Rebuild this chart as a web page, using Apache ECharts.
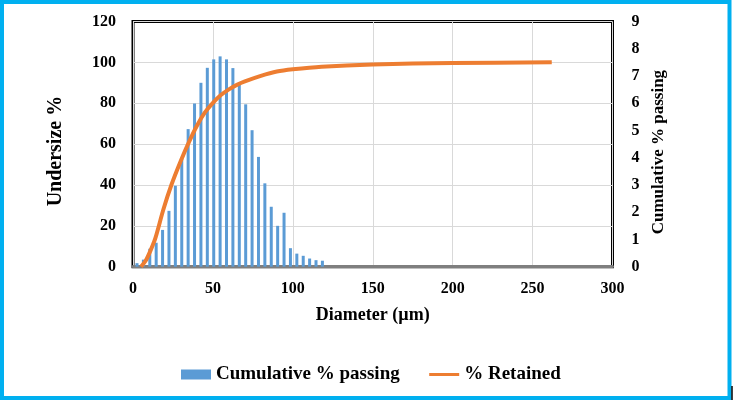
<!DOCTYPE html>
<html>
<head>
<meta charset="utf-8">
<script src="https://cdn.jsdelivr.net/npm/echarts@6/dist/echarts.min.js"></script>
<style>
  html, body { margin: 0; padding: 0; background: #fff; }
  #chart { width: 734px; height: 402px; }
</style>
</head>
<body>
<div id="chart"></div>
<script>
// bar x positions (µm) and heights on the right axis
const diameters = [2.5, 6.5, 10.5, 14.5, 18.5, 22.5, 26.5, 30.5, 34.5, 38.5, 42.5, 46.5, 50.5, 54.5, 58.5,
    62.5, 66.5, 70.5, 74.5, 78.5, 82.5, 86.5, 90.5, 94.5, 98.5, 102.5, 106.5, 110.5, 114.5, 118.5];
const passing = [0.13, 0.26, 0.66, 0.88, 1.35, 2.05, 2.97, 3.95, 5.05, 5.99, 6.75, 7.3, 7.61, 7.72, 7.61,
    7.29, 6.75, 5.96, 5.01, 4.03, 3.06, 2.2, 1.5, 1.98, 0.68, 0.48, 0.4, 0.3, 0.24, 0.22];

// cumulative curve (left axis)
const retainedX = [5, 8, 11, 14, 19, 24, 30, 35, 40, 45, 50, 55, 60, 65, 70, 80, 90, 100, 118, 150, 200, 262];
const retainedY = [0, 3, 8, 14, 28, 40, 52, 61, 69, 75.5, 80.2, 84, 86.8, 89, 90.7, 93.4, 95.5, 96.6, 97.9, 99, 99.7, 100];

const barData = diameters.map((d, i) => [d, passing[i]]);
const lineData = retainedX.map((d, i) => [d, retainedY[i]]);

const font = 'Liberation Serif, Times New Roman, serif';
const labelStyle = { color: '#000', fontFamily: font, fontWeight: 'bold', fontSize: 16 };

const chart = echarts.init(document.getElementById('chart'));

const option = {
    animation: false,
    backgroundColor: '#fff',
    grid: {
        left: 133,
        right: 121.5,
        top: 21.5,
        bottom: 135.3,
        show: true,
        borderColor: '#000',
        borderWidth: 3
    },
    legend: {
        left: 181,
        top: 365,
        padding: 0,
        itemWidth: 30,
        itemHeight: 10,
        itemGap: 28,
        textStyle: { color: '#000', fontFamily: font, fontWeight: 'bold', fontSize: 19 },
        data: [
            { name: 'Cumulative % passing', icon: 'rect' },
            { name: '% Retained', itemStyle: { opacity: 0 }, lineStyle: { width: 3 } }
        ]
    },
    xAxis: {
        type: 'value',
        min: 0,
        max: 300,
        interval: 50,
        name: 'Diameter (µm)',
        nameLocation: 'middle',
        nameGap: 40,
        nameTextStyle: { color: '#000', fontFamily: font, fontWeight: 'bold', fontSize: 18 },
        axisLine: { show: true, lineStyle: { color: '#7f7f7f', width: 3 } },
        axisTick: { show: false },
        axisLabel: Object.assign({ margin: 14 }, labelStyle),
        splitLine: { show: true, lineStyle: { color: '#d9d9d9', width: 1 } }
    },
    yAxis: [
        {
            type: 'value',
            min: 0,
            max: 120,
            interval: 20,
            name: 'Undersize %',
            nameLocation: 'middle',
            nameRotate: 90,
            nameGap: 67,
            nameTextStyle: {
                color: '#000', fontFamily: font, fontWeight: 'bold', fontSize: 20,
                padding: [0, 14, 0, 0]
            },
            axisLine: { show: false },
            axisTick: { show: false },
            axisLabel: Object.assign({ margin: 17 }, labelStyle),
            splitLine: { show: true, lineStyle: { color: '#d9d9d9', width: 1 } }
        },
        {
            type: 'value',
            min: 0,
            max: 9,
            interval: 1,
            position: 'right',
            name: 'Cumulative % passing',
            nameLocation: 'middle',
            nameRotate: 90,
            nameGap: 36,
            nameTextStyle: {
                color: '#000', fontFamily: font, fontWeight: 'bold', fontSize: 17,
                padding: [0, 16, 0, 0]
            },
            axisLine: { show: false },
            axisTick: { show: false },
            axisLabel: Object.assign({ margin: 19 }, labelStyle),
            splitLine: { show: false }
        }
    ],
    series: [
        {
            name: 'Cumulative % passing',
            type: 'bar',
            yAxisIndex: 1,
            barWidth: 3,
            itemStyle: { color: '#5b9bd5' },
            data: barData
        },
        {
            name: '% Retained',
            type: 'line',
            yAxisIndex: 0,
            smooth: 0.3,
            symbol: 'none',
            lineStyle: { color: '#ed7d31', width: 4 },
            itemStyle: { color: '#ed7d31' },
            data: lineData,
            z: 5
        }
    ],
    graphic: [
        {
            type: 'rect',
            shape: { x: 2, y: 2, width: 727.5, height: 396 },
            style: { fill: 'none', stroke: '#00b0f0', lineWidth: 4 },
            silent: true
        },
        {
            type: 'line',
            shape: { x1: 732, y1: 386, x2: 732, y2: 400 },
            style: { stroke: '#000', lineWidth: 1.5 },
            silent: true
        }
    ]
};

chart.setOption(option);
</script>
</body>
</html>
